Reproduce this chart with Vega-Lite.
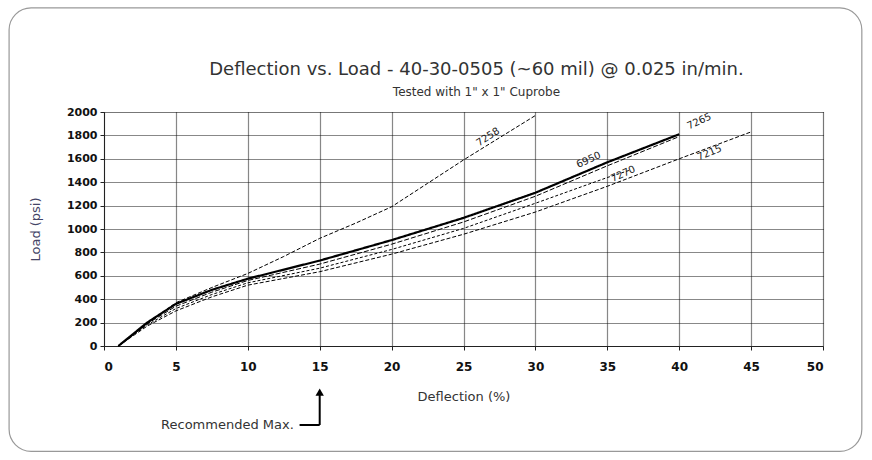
{
  "$schema": "https://vega.github.io/schema/vega-lite/v6.json",
  "autosize": "none",
  "width": 719,
  "height": 234,
  "padding": {"left": 104, "top": 112, "right": 49, "bottom": 114},
  "background": "white",
  "datasets": {
    "curves": [
      {"id": "7258", "x": 1, "y": 0}, {"id": "7258", "x": 3, "y": 190}, {"id": "7258", "x": 5, "y": 370}, {"id": "7258", "x": 7.5, "y": 500}, {"id": "7258", "x": 10, "y": 620}, {"id": "7258", "x": 12.5, "y": 765}, {"id": "7258", "x": 15, "y": 920}, {"id": "7258", "x": 17.5, "y": 1050}, {"id": "7258", "x": 20, "y": 1190}, {"id": "7258", "x": 22.5, "y": 1390}, {"id": "7258", "x": 25, "y": 1590}, {"id": "7258", "x": 27.5, "y": 1780}, {"id": "7258", "x": 30, "y": 1970},
      {"id": "7265", "x": 1, "y": 0}, {"id": "7265", "x": 3, "y": 200}, {"id": "7265", "x": 5, "y": 360}, {"id": "7265", "x": 7.5, "y": 480}, {"id": "7265", "x": 10, "y": 575}, {"id": "7265", "x": 15, "y": 730}, {"id": "7265", "x": 20, "y": 905}, {"id": "7265", "x": 25, "y": 1095}, {"id": "7265", "x": 30, "y": 1310}, {"id": "7265", "x": 35, "y": 1570}, {"id": "7265", "x": 40, "y": 1810},
      {"id": "6950", "x": 1, "y": 0}, {"id": "6950", "x": 3, "y": 190}, {"id": "6950", "x": 5, "y": 340}, {"id": "6950", "x": 7.5, "y": 460}, {"id": "6950", "x": 10, "y": 560}, {"id": "6950", "x": 15, "y": 700}, {"id": "6950", "x": 20, "y": 870}, {"id": "6950", "x": 25, "y": 1060}, {"id": "6950", "x": 30, "y": 1280}, {"id": "6950", "x": 35, "y": 1540}, {"id": "6950", "x": 40, "y": 1790},
      {"id": "7270", "x": 1, "y": 0}, {"id": "7270", "x": 3, "y": 180}, {"id": "7270", "x": 5, "y": 320}, {"id": "7270", "x": 7.5, "y": 440}, {"id": "7270", "x": 10, "y": 540}, {"id": "7270", "x": 15, "y": 665}, {"id": "7270", "x": 20, "y": 825}, {"id": "7270", "x": 25, "y": 1005}, {"id": "7270", "x": 30, "y": 1220}, {"id": "7270", "x": 35, "y": 1440}, {"id": "7270", "x": 36.5, "y": 1500},
      {"id": "7215", "x": 1, "y": 0}, {"id": "7215", "x": 3, "y": 170}, {"id": "7215", "x": 5, "y": 300}, {"id": "7215", "x": 7.5, "y": 420}, {"id": "7215", "x": 10, "y": 520}, {"id": "7215", "x": 15, "y": 635}, {"id": "7215", "x": 20, "y": 785}, {"id": "7215", "x": 25, "y": 955}, {"id": "7215", "x": 30, "y": 1145}, {"id": "7215", "x": 35, "y": 1365}, {"id": "7215", "x": 40, "y": 1600}, {"id": "7215", "x": 45, "y": 1830}
    ],
    "labels": [
      {"id": "7258", "x": 26.7, "y": 1786, "a": -33},
      {"id": "6950", "x": 33.7, "y": 1590, "a": -25},
      {"id": "7270", "x": 36.1, "y": 1470, "a": -25},
      {"id": "7215", "x": 42.1, "y": 1650, "a": -22},
      {"id": "7265", "x": 41.4, "y": 1920, "a": -25}
    ],
    "titles": [
      {"x": 25.9, "y": 2359, "t": "Deflection vs. Load - 40-30-0505 (~60 mil) @ 0.025 in/min.", "s": 18},
      {"x": 25.9, "y": 2171, "t": "Tested with 1\" x 1\" Cuprobe", "s": 12}
    ]
  },
  "config": {
    "axis": {"labelOverlap": false, "grid": true, "gridColor": "#111", "gridDash": [1, 1], "gridWidth": 1.2, "domainColor": "#222", "tickColor": "#222", "tickSize": 4, "labelFont": "DejaVu Sans", "labelFontWeight": "bold", "labelColor": "#111", "titleFont": "DejaVu Sans", "titleFontWeight": "normal", "titleFontSize": 13}
  },
  "layer": [
    {
      "data": {"values": [{"x1": -6.6, "x2": 52.7, "y1": 2890, "y2": -900}]},
      "mark": {"type": "rect", "fill": null, "stroke": "#999", "strokeWidth": 1.2, "cornerRadius": 22, "clip": false},
      "encoding": {
        "x": {"field": "x1", "type": "quantitative", "scale": {"domain": [0, 50], "nice": false},
          "axis": {"title": "Deflection (%)", "tickCount": 10, "labelFontSize": 12, "labelPadding": 11, "titleColor": "#333", "titlePadding": 18}},
        "x2": {"field": "x2"},
        "y": {"field": "y1", "type": "quantitative", "scale": {"domain": [0, 2000], "nice": false},
          "axis": {"title": "Load (psi)", "format": "d", "tickCount": 10, "labelFontSize": 11, "labelPadding": 3, "titleColor": "#446", "titlePadding": 24}},
        "y2": {"field": "y2"}
      }
    },
    {
      "data": {"name": "curves"},
      "mark": {"type": "line", "color": "black"},
      "encoding": {
        "x": {"field": "x", "type": "quantitative"},
        "y": {"field": "y", "type": "quantitative"},
        "detail": {"field": "id"},
        "strokeWidth": {"condition": {"test": "datum.id === '7265'", "value": 2.2}, "value": 1},
        "strokeDash": {"field": "id", "type": "nominal", "legend": null,
          "scale": {"domain": ["7258", "7265", "6950", "7270", "7215"], "range": [[4, 2], [1, 0], [5, 2], [3, 2], [4, 2]]}}
      }
    },
    {
      "data": {"name": "labels"},
      "mark": {"type": "text", "font": "DejaVu Sans", "fontSize": 10, "color": "#222"},
      "encoding": {
        "x": {"field": "x", "type": "quantitative"},
        "y": {"field": "y", "type": "quantitative"},
        "text": {"field": "id"},
        "angle": {"field": "a", "type": "quantitative", "scale": null}
      }
    },
    {
      "data": {"name": "titles"},
      "mark": {"type": "text", "font": "DejaVu Sans", "color": "#333", "align": "center", "baseline": "middle", "clip": false},
      "encoding": {
        "x": {"field": "x", "type": "quantitative"},
        "y": {"field": "y", "type": "quantitative"},
        "text": {"field": "t"},
        "size": {"field": "s", "type": "quantitative", "scale": null}
      }
    },
    {
      "data": {"values": [{"x": 15, "y": -400, "y2": -675}]},
      "mark": {"type": "rule", "color": "black", "strokeWidth": 2, "clip": false},
      "encoding": {
        "x": {"field": "x", "type": "quantitative"},
        "y": {"field": "y", "type": "quantitative"},
        "y2": {"field": "y2"}
      }
    },
    {
      "data": {"values": [{"x": 13.6, "x2": 15, "y": -675}]},
      "mark": {"type": "rule", "color": "black", "strokeWidth": 2, "clip": false},
      "encoding": {
        "x": {"field": "x", "type": "quantitative"},
        "x2": {"field": "x2"},
        "y": {"field": "y", "type": "quantitative"}
      }
    },
    {
      "data": {"values": [{"x": 15, "y": -395}]},
      "mark": {"type": "point", "shape": "triangle-up", "filled": true, "color": "black", "size": 70, "opacity": 1, "clip": false},
      "encoding": {
        "x": {"field": "x", "type": "quantitative"},
        "y": {"field": "y", "type": "quantitative"}
      }
    },
    {
      "data": {"values": [{"x": 13.2, "y": -675, "t": "Recommended Max."}]},
      "mark": {"type": "text", "align": "right", "baseline": "middle", "font": "DejaVu Sans", "fontSize": 13, "color": "#333", "clip": false},
      "encoding": {
        "x": {"field": "x", "type": "quantitative"},
        "y": {"field": "y", "type": "quantitative"},
        "text": {"field": "t"}
      }
    }
  ]
}
